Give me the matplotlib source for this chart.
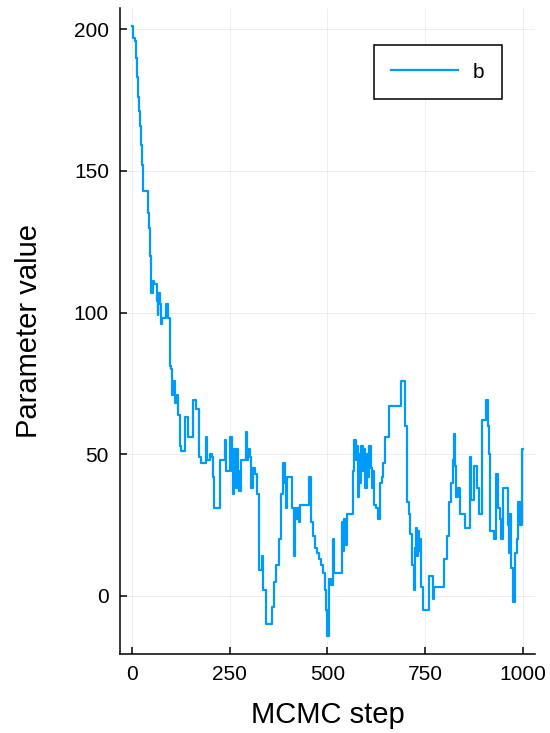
import matplotlib
matplotlib.use("Agg")
import matplotlib.pyplot as plt

plt.rcParams['font.family'] = ['Liberation Sans', 'DejaVu Sans']

# MCMC trace: step at which the chain moves, and new value
steps = [1, 4, 9, 11, 13, 16, 18, 21, 23, 26, 28, 42, 44, 46, 48, 50, 53, 56, 64, 66,
         68, 73, 75, 77, 88, 92, 97, 101, 103, 106, 111, 116, 118, 122, 127, 136, 143, 156, 164, 171,
         177, 189, 192, 200, 204, 207, 211, 225, 237, 241, 250, 257, 259, 262, 266, 269, 272, 275, 279, 291,
         294, 297, 301, 305, 310, 314, 319, 324, 326, 333, 336, 343, 358, 364, 368, 375, 380, 386, 391, 393,
         396, 410, 414, 416, 419, 423, 427, 431, 454, 457, 462, 468, 473, 478, 484, 489, 493, 497, 499, 505,
         509, 513, 517, 537, 540, 543, 547, 551, 564, 568, 572, 575, 578, 580, 583, 586, 590, 593, 597, 600,
         604, 607, 610, 614, 617, 620, 624, 630, 634, 638, 642, 648, 656, 688, 698, 702, 709, 712, 717, 722,
         724, 726, 729, 731, 733, 736, 739, 743, 759, 770, 773, 797, 806, 811, 816, 820, 824, 826, 829, 833,
         838, 852, 863, 866, 875, 881, 888, 895, 905, 909, 912, 916, 920, 925, 931, 936, 940, 944, 948, 960,
         963, 966, 969, 974, 979, 983, 987, 992, 996, 998, 1000]
values = [201, 197, 196, 190, 183, 176, 171, 166, 159, 152, 143, 135, 130, 120, 115, 107, 111, 110, 104, 99,
          107, 103, 96, 98, 103, 98, 81, 80, 71, 76, 68, 71, 64, 53, 51, 63, 56, 69, 66, 49,
          47, 56, 48, 50, 49, 42, 31, 48, 55, 44, 56, 44, 36, 52, 38, 52, 44, 37, 48, 58,
          48, 52, 49, 38, 45, 43, 36, 25, 9, 14, 2, -10, -4, 5, 11, 20, 36, 47, 40, 31,
          42, 31, 14, 31, 27, 31, 26, 32, 42, 26, 21, 17, 15, 13, 11, 8, 2, -5, -14, 6,
          4, 20, 8, 26, 16, 27, 18, 29, 44, 55, 48, 53, 35, 50, 40, 53, 44, 52, 38, 50,
          42, 53, 45, 38, 44, 32, 31, 27, 40, 42, 47, 56, 67, 76, 60, 33, 29, 22, 11, 2,
          17, 24, 14, 23, 16, 20, 3, -5, 7, -1, 3, 13, 21, 33, 40, 48, 57, 46, 35, 38,
          29, 24, 49, 34, 46, 38, 29, 62, 69, 60, 50, 23, 23, 20, 43, 31, 27, 20, 38, 25,
          15, 29, 10, -2, 15, 20, 33, 25, 33, 52, 52]

xticks = [0, 250, 500, 750, 1000]
yticks = [0, 50, 100, 150, 200]

fig = plt.figure(figsize=(5.5, 7.33), dpi=100)
ax = fig.add_axes([0.2182, 0.1078, 0.7545, 0.8813])

ax.plot(steps, values, drawstyle='steps-post', color='#009AFA', lw=1.6, label='b')

ax.set_xlim(-30, 1030)
ax.set_ylim(-20.5, 207.5)
ax.set_xticks(xticks)
ax.set_yticks(yticks)
ax.grid(True, color='black', alpha=0.08, lw=0.6)
ax.spines['top'].set_visible(False)
ax.spines['right'].set_visible(False)
for s in ['left', 'bottom']:
    ax.spines[s].set_linewidth(1.1)
ax.tick_params(direction='in', length=5, width=1.1, labelsize=15, pad=8)

ax.set_xlabel('MCMC step', fontsize=21, labelpad=12)
ax.set_ylabel('Parameter value', fontsize=21, labelpad=22)

leg = ax.legend(loc='upper right', bbox_to_anchor=(0.92, 0.943), borderaxespad=0,
                fontsize=15, frameon=True, fancybox=False, framealpha=1,
                edgecolor='black', handlelength=3.2, handletextpad=0.7,
                borderpad=0.85)
leg.get_frame().set_linewidth(1.1)

fig.savefig('out.png', dpi=100)
